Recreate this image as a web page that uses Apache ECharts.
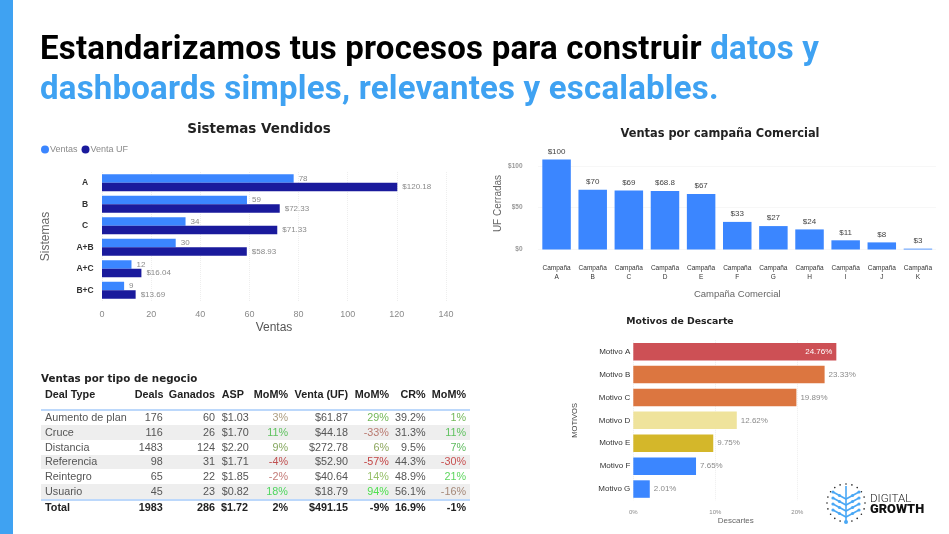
<!DOCTYPE html>
<html>
<head>
<meta charset="utf-8">
<title>Digital Growth</title>
<script src="https://cdn.jsdelivr.net/npm/echarts@6/dist/echarts.min.js"></script>
<style>
html,body{margin:0;padding:0;background:#fff;}
#slide{position:relative;width:949px;height:534px;overflow:hidden;}
#strip{position:absolute;left:0;top:0;width:13px;height:534px;background:#3fa2f2;}
#main{position:absolute;left:0;top:0;width:949px;height:534px;filter:blur(0.45px);}
h1{position:absolute;left:40px;top:28px;margin:0;font:700 33px/40px Roboto,sans-serif;letter-spacing:0.2px;color:#000;white-space:nowrap;}
h1 span{color:#3fa2f2;}
#tblTitle{position:absolute;left:41px;top:372px;font:700 10.3px "DejaVu Sans",sans-serif;color:#222;filter:blur(0.3px);}
table{position:absolute;left:41px;top:386.5px;width:428.5px;border-collapse:collapse;table-layout:fixed;font:10.8px "Liberation Sans",Arial,sans-serif;color:#555;filter:blur(0.3px);}
th,td{padding:0 1px;height:14.7px;line-height:13px;text-align:right;white-space:nowrap;overflow:visible;}
th{font-weight:700;color:#222;height:16px;padding-bottom:6px;border-bottom:2px solid #bcd8fb;}
.l{text-align:left;padding-left:4px;}
.a{text-align:left;padding-left:5.7px;}
.e{padding-right:3.5px;}
tr.odd td{background:#eeeeee;}
tr.total td{height:13px;font-weight:700;color:#222;border-top:2px solid #bcd8fb;}
#logo{position:absolute;left:826px;top:482px;filter:blur(0.3px);}
#lg1{position:absolute;left:870px;top:491.5px;font:300 11.6px/13px Roboto,sans-serif;color:#222;}
#lg2{position:absolute;left:870px;top:502px;font:900 12.8px/14px Roboto,sans-serif;color:#111;}
</style>
</head>
<body>
<div id="slide">
	<div id="strip"></div>
	<div id="main"></div>
	<h1>Estandarizamos tus procesos para construir <span>datos y</span><br><span>dashboards simples, relevantes y escalables.</span></h1>
	<div id="tblTitle">Ventas por tipo de negocio</div>
	<table id="tbl"></table>
	<svg id="logo" width="40" height="44"></svg>
	<div id="lg1">DIGITAL</div>
	<div id="lg2">GROWTH</div>
</div>
<script>
// Sistemas Vendidos
var sistemas = ['A','B','C','A+B','A+C','B+C'];
var ventas = [78,59,34,30,12,9];
var ventaUF = [120.18,72.33,71.33,58.93,16.04,13.69];

// Ventas por campaña Comercial (alturas de barra y etiquetas no coinciden en el original)
var campanas = ['Campaña\nA','Campaña\nB','Campaña\nC','Campaña\nD','Campaña\nE','Campaña\nF','Campaña\nG','Campaña\nH','Campaña\nI','Campaña\nJ','Campaña\nK'];
var ufCerradas = [107.5,71.5,70.5,70,66.5,33,28,24,11,8.5,1];
var ufEtiquetas = ['$100','$70','$69','$68.8','$67','$33','$27','$24','$11','$8','$3'];

// Motivos de Descarte
var motivos = ['Motivo A','Motivo B','Motivo C','Motivo D','Motivo E','Motivo F','Motivo G'];
var descartes = [24.76,23.33,19.89,12.62,9.75,7.65,2.01];
var descartesColor = ['#cd5055','#dc7640','#dc7640','#efe39c','#d4b72a','#3b86ff','#3b86ff'];

// Ventas por tipo de negocio
var tablaCols = ['Deal Type','Deals','Ganados','ASP','MoM%','Venta (UF)','MoM%','CR%','MoM%'];
var tablaFilas = [
	['Aumento de plan','176','60','$1.03','3%','$61.87','29%','39.2%','1%'],
	['Cruce','116','26','$1.70','11%','$44.18','-33%','31.3%','11%'],
	['Distancia','1483','124','$2.20','9%','$272.78','6%','9.5%','7%'],
	['Referencia','98','31','$1.71','-4%','$52.90','-57%','44.3%','-30%'],
	['Reintegro','65','22','$1.85','-2%','$40.64','14%','48.9%','21%'],
	['Usuario','45','23','$0.82','18%','$18.79','94%','56.1%','-16%']
];
var tablaTotal = ['Total','1983','286','$1.72','2%','$491.15','-9%','16.9%','-1%'];
var momColores = {
	4:['#ac9d80','#5fc25f','#86a860','#c04f4f','#c47c78','#4fd65f'],
	6:['#74b85a','#b97a70','#8fa860','#c44545','#96bf68','#4fe04f'],
	8:['#74b85a','#5fc25f','#5fbb5f','#c85050','#5fd65f','#a58878']
};
var colAnchos = [92.7,30,52.3,33,40,60,41,36.7,42.8];

function celdaClase(i){
	if(i==0) return 'l';
	if(i==3) return 'a';
	if(i==8) return 'e';
	return '';
}

// tabla
var html = '<colgroup>';
colAnchos.forEach(function(w){ html += '<col style="width:'+w+'px">' });
html += '</colgroup><tr>';
tablaCols.forEach(function(c,i){ html += '<th class="'+celdaClase(i)+'">'+c+'</th>' });
html += '</tr>';
tablaFilas.forEach(function(fila,r){
	html += '<tr class="'+(r%2?'odd':'')+'">';
	fila.forEach(function(v,i){
		var color = momColores[i] ? 'color:'+momColores[i][r] : '';
		html += '<td class="'+celdaClase(i)+'" style="'+color+'">'+v+'</td>';
	});
	html += '</tr>';
});
html += '<tr class="total">';
tablaTotal.forEach(function(v,i){ html += '<td class="'+(i==3?'':celdaClase(i))+'">'+v+'</td>' });
html += '</tr>';
document.getElementById('tbl').innerHTML = html;

// logo
var svg = '';
var cx = 20, cy = 21;
for(var a = 0; a < 20; a++){
	var t = a/20*Math.PI*2;
	svg += '<circle cx="'+(cx+19*Math.sin(t)).toFixed(1)+'" cy="'+(cy-19*Math.cos(t)).toFixed(1)+'" r="0.8" fill="#222"/>';
}
svg += '<path d="M20 4V40" stroke="#4aa8f5" stroke-width="1.6"/>';
[10,16,22,28].forEach(function(y){
	svg += '<path d="M7 '+y+'L20 '+(y+7)+'L33 '+y+'" stroke="#4aa8f5" stroke-width="1.6" fill="none"/>';
	svg += '<circle cx="7" cy="'+y+'" r="1.6" fill="#4aa8f5"/><circle cx="33" cy="'+y+'" r="1.6" fill="#4aa8f5"/>';
	svg += '<circle cx="13.5" cy="'+(y+3.5)+'" r="1.6" fill="#4aa8f5"/><circle cx="26.5" cy="'+(y+3.5)+'" r="1.6" fill="#4aa8f5"/>';
});
svg += '<circle cx="20" cy="40" r="2" fill="#4aa8f5"/>';
document.getElementById('logo').innerHTML = svg;

var gris = '#8a8a8a';
var puntos = {show:true,lineStyle:{type:'dotted',color:'#eeeeee'}};
var myChart = echarts.init(document.getElementById('main'));
var option = {
	animation:false,
	title:[
		{text:'Sistemas Vendidos',left:259,top:122,padding:0,textAlign:'center',textStyle:{fontFamily:'DejaVu Sans',fontWeight:'bold',color:'#222',fontSize:13.5}},
		{text:'Ventas por campaña Comercial',left:720,top:129,padding:0,textAlign:'center',textStyle:{fontFamily:'DejaVu Sans',fontWeight:'bold',color:'#222',fontSize:11.4}},
		{text:'Motivos de Descarte',left:680,top:317,padding:0,textAlign:'center',textStyle:{fontFamily:'DejaVu Sans',fontWeight:'bold',color:'#222',fontSize:9.3}}
	],
	legend:{
		left:41,top:145,padding:0,icon:'circle',itemWidth:8,itemHeight:8,itemGap:4,
		data:['Ventas','Venta UF'],
		textStyle:{fontFamily:'Liberation Sans',fontSize:9,color:gris,padding:[0,0,0,-4]}
	},
	grid:[
		{left:102,top:172,width:344,height:129},
		{left:538.5,top:157.5,width:397.5,height:92},
		{left:633.3,top:340.2,width:205,height:160.3}
	],
	xAxis:[
		{
			gridIndex:0,type:'value',min:0,max:140,interval:20,
			name:'Ventas',nameLocation:'middle',nameGap:21,
			nameTextStyle:{fontFamily:'Liberation Sans',fontSize:12,color:'#555'},
			axisLine:{show:false},axisTick:{show:false},splitLine:puntos,
			axisLabel:{fontFamily:'Liberation Sans',fontSize:9,color:gris,margin:9}
		},
		{
			gridIndex:1,type:'category',data:campanas,
			name:'Campaña Comercial',nameLocation:'middle',nameGap:40,
			nameTextStyle:{fontFamily:'Liberation Sans',fontSize:9.5,color:'#666'},
			axisLine:{show:false},axisTick:{show:false},
			axisLabel:{fontFamily:'Liberation Sans',fontSize:6.5,color:'#333',margin:14,lineHeight:9,interval:0}
		},
		{
			gridIndex:2,type:'value',min:0,max:25,interval:10,
			name:'Descartes',nameLocation:'middle',nameGap:15,nameTextStyle:{fontFamily:'Liberation Sans',fontSize:8,color:'#666'},
			axisLine:{show:false},axisTick:{show:false},splitLine:{show:true,showMaxLine:false,lineStyle:{type:'dotted',color:'#eeeeee'}},
			axisLabel:{fontFamily:'Liberation Sans',fontSize:6,color:gris,margin:9,showMaxLabel:false,formatter:'{value}%'}
		}
	],
	yAxis:[
		{
			gridIndex:0,type:'category',data:sistemas,inverse:true,
			name:'Sistemas',nameLocation:'middle',nameGap:50,
			nameTextStyle:{fontFamily:'Liberation Sans',fontSize:12,color:'#666'},
			axisLine:{show:false},axisTick:{show:false},
			axisLabel:{fontFamily:'Liberation Sans',fontSize:8.5,fontWeight:'bold',color:'#333',align:'center',margin:17}
		},
		{
			gridIndex:1,type:'value',min:0,max:110,interval:50,
			name:'UF Cerradas',nameLocation:'middle',nameGap:35,
			nameTextStyle:{fontFamily:'Liberation Sans',fontSize:10,color:'#666'},
			axisLine:{show:false},axisTick:{show:false},
			splitLine:{show:true,showMaxLine:false,lineStyle:{type:'dotted',color:'#eeeeee'}},
			axisLabel:{fontFamily:'Liberation Sans',fontSize:6.5,fontWeight:'bold',color:'#999',margin:16,showMaxLabel:false,formatter:'${value}'}
		},
		{
			gridIndex:2,type:'category',data:motivos,inverse:true,
			name:'MOTIVOS',nameLocation:'middle',nameGap:54,
			nameTextStyle:{fontFamily:'Liberation Sans',fontSize:7.5,color:'#444'},
			axisLine:{show:false},axisTick:{show:false},
			axisLabel:{fontFamily:'Liberation Sans',fontSize:8,color:'#333',margin:3}
		}
	],
	series:[
		{
			name:'Ventas',type:'bar',xAxisIndex:0,yAxisIndex:0,data:ventas,barWidth:8.5,barGap:'0%',
			itemStyle:{color:'#3b86ff'},
			label:{show:true,position:'right',distance:5,fontFamily:'Liberation Sans',fontSize:8,color:gris}
		},
		{
			name:'Venta UF',type:'bar',xAxisIndex:0,yAxisIndex:0,data:ventaUF,barWidth:8.5,
			itemStyle:{color:'#1a1a9c'},
			label:{show:true,position:'right',distance:5,fontFamily:'Liberation Sans',fontSize:8,color:gris,
				formatter:function(p){ return '$'+p.value.toFixed(2) }}
		},
		{
			name:'UF Cerradas',type:'bar',xAxisIndex:1,yAxisIndex:1,data:ufCerradas,barWidth:28.5,
			itemStyle:{color:'#3b86ff'},
			label:{show:true,position:'top',distance:4,fontFamily:'Liberation Sans',fontSize:8,color:'#444',
				formatter:function(p){ return ufEtiquetas[p.dataIndex] }}
		},
		{
			name:'Descartes',type:'bar',xAxisIndex:2,yAxisIndex:2,barWidth:17.5,
			data:descartes.map(function(v,i){
				var d = {value:v,itemStyle:{color:descartesColor[i]}};
				if(i==0) d.label = {position:'insideRight',color:'#fff',distance:4};
				return d;
			}),
			label:{show:true,position:'right',distance:4,fontFamily:'Liberation Sans',fontSize:8,color:gris,
				formatter:function(p){ return p.value.toFixed(2)+'%' }}
		}
	]
};
myChart.setOption(option);
</script>
</body>
</html>
